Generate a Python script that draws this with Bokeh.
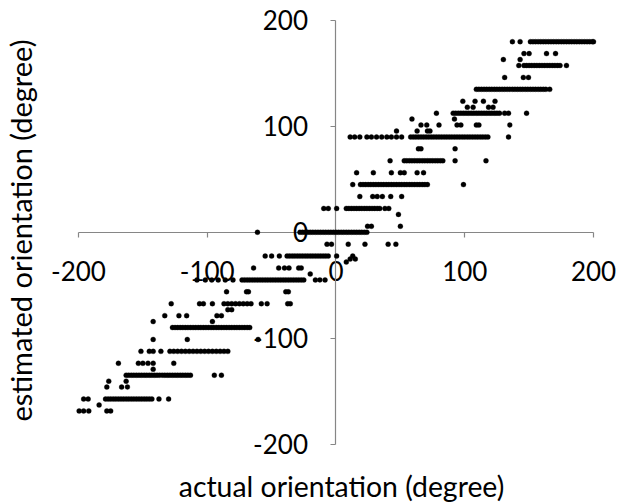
from bokeh.plotting import figure
from bokeh.models import Range1d, LinearAxis, FixedTicker, Label
from bokeh.embed import file_html
from bokeh.resources import INLINE
import math

# Actual orientation (degree) of every sample, grouped by the estimated
# orientation (degree) it was assigned to.
est_180 = [137, 143, 151, 153, 155, 157, 159, 161, 163, 165, 167, 169, 171, 173,
           175, 177, 179, 181, 183, 185, 187, 189, 191, 193, 195, 197, 199, 200]
est_168_75 = [146, 150, 163.5, 170.5]
est_163_125 = [130, 143]
est_157_5 = [142, 146, 148, 150, 152, 154, 156, 158, 160, 162, 164, 166, 168, 170,
             172, 174, 179]
est_146_25 = [131, 145.5, 149.5]
est_135 = [109, 111, 113, 115, 117, 119, 121, 123, 125, 127, 129, 131, 133, 135,
           137, 139, 141, 143, 145, 147, 149, 151, 153, 155, 157, 159, 161, 163, 166]
est_123_75 = [98.5, 108, 114.5, 123.5]
est_118_125 = [102, 106.5, 118.5, 122]
est_112_5 = [78, 91, 93, 95, 97, 99, 101, 103, 105, 107, 109, 111, 113, 115, 117,
             119, 121, 123, 125, 127, 131, 134, 148]
est_106_875 = [59, 92]
est_101_25 = [66, 70.5, 80, 94, 97, 109, 111, 135]
est_95_625 = [47, 63, 71, 73]
est_90 = [11, 14.5, 18.5, 24, 27.5, 31.5, 35.5, 39.5, 43, 47, 51, 58, 60, 62, 64,
          66, 68, 70, 72, 74, 76, 78, 80, 82, 84, 86, 88, 90, 92, 94, 96, 98, 100,
          102, 104, 106, 108, 110, 112, 114, 116, 118, 134]
est_78_75 = [64, 66, 92.5]
est_67_5 = [42, 53, 55, 57, 59, 61, 63, 65, 67, 69, 71, 73, 75, 77, 79, 81, 83,
            92.5, 116.5]
est_56_25 = [16, 29, 43, 50, 53, 63, 68]
est_45 = [13, 19, 21, 23, 25, 27, 29, 31, 33, 35, 37, 39, 41, 43, 45, 47, 49, 51,
          53, 55, 57, 59, 61, 63, 65, 67, 69, 71, 99]
est_33_75 = [18.5, 28.5, 32, 36, 42.5, 51]
est_22_5 = [-9.5, -6, 0.5, 8, 10, 12, 14, 16, 18, 20, 22, 24, 26, 28, 30, 32, 34,
            38, 41]
est_16_875 = [48.5]
est_5_625 = [24.5, 27.5, 50]
est_0 = [-61, -28, -26, -24, -22, -20, -18, -16, -14, -12, -10, -8, -6, -4, -2, 0,
         2, 4, 6, 8, 10, 12, 14, 16, 18, 20, 22, 24]
est_m11_25 = [-7, -3.5, 9.5, 22.5, 40.5, 46.5]
est_m22_5 = [-55, -50, -44, -38, -36, -34, -32, -30, -28, -26, -24, -22, -20, -18,
             -16, -14, -12, -10, -8, -6, 0.5, 13]
est_m25_3 = [11, 15]
est_m28_125 = [8]
est_m33_75 = [-64, -44.5, -40, -36.5, -29, -27]
est_m39_375 = [-20]
est_m45 = [-108, -101.5, -96.5, -91.5, -86, -80, -73, -71, -69, -67, -65, -63, -61,
           -59, -57, -55, -53, -51, -49, -47, -45, -43, -41, -39, -37, -35, -33,
           -31, -29, -27, -25, -16, -12.5, -8.5]
est_m56_25 = [-85, -69.5, -68, -39, -37]
est_m67_5 = [-128, -106, -103, -96, -87, -84, -81, -78, -75, -72, -69, -66, -58,
             -53.5, -37.5, -35.5]
est_m73_125 = [-84, -81]
est_m78_75 = [-133, -122, -116, -92.5, -89]
est_m84_375 = [-142, -96]
est_m90 = [-127, -125, -123, -121, -119, -117, -115, -113, -111, -109, -107, -105,
           -103, -101, -99, -97, -95, -93, -91, -89, -87, -85, -83, -81, -79, -77,
           -75, -73, -71, -69, -67]
est_m101_25 = [-142, -115.5, -60.5]
est_m112_5 = [-151.5, -145, -142, -136, -129, -126, -123, -120, -117, -114, -111,
              -108, -105, -102, -99, -96, -93, -90, -87, -84]
est_m123_75 = [-169, -153.5, -150, -146, -142, -126]
est_m129_375 = [-142]
est_m135 = [-163, -161, -159, -157, -155, -153, -151, -149, -147, -145, -143, -141,
            -139, -137, -135, -133, -131, -129, -127, -125, -123, -121, -119, -117,
            -115, -113, -94.5, -89]
est_m140_625 = [-176.5, -163]
est_m146_25 = [-178, -166.5, -162]
est_m157_5 = [-196, -192.5, -179, -177, -175, -173, -171, -169, -167, -165, -163,
              -161, -159, -157, -155, -153, -151, -149, -147, -145, -143, -137.5, -130]
est_m163_125 = [-184]
est_m168_75 = [-199.5, -196, -192, -178, -175]

groups = [
    (180.0, est_180), (168.75, est_168_75), (163.125, est_163_125),
    (157.5, est_157_5), (146.25, est_146_25), (135.0, est_135),
    (123.75, est_123_75), (118.125, est_118_125), (112.5, est_112_5),
    (106.875, est_106_875), (101.25, est_101_25), (95.625, est_95_625),
    (90.0, est_90), (78.75, est_78_75), (67.5, est_67_5), (56.25, est_56_25),
    (45.0, est_45), (33.75, est_33_75), (22.5, est_22_5), (16.875, est_16_875),
    (5.625, est_5_625), (0.0, est_0), (-11.25, est_m11_25), (-22.5, est_m22_5),
    (-25.3, est_m25_3), (-28.125, est_m28_125), (-33.75, est_m33_75),
    (-39.375, est_m39_375), (-45.0, est_m45), (-56.25, est_m56_25),
    (-67.5, est_m67_5), (-73.125, est_m73_125), (-78.75, est_m78_75),
    (-84.375, est_m84_375), (-90.0, est_m90), (-101.25, est_m101_25),
    (-112.5, est_m112_5), (-123.75, est_m123_75), (-129.375, est_m129_375),
    (-135.0, est_m135), (-140.625, est_m140_625), (-146.25, est_m146_25),
    (-157.5, est_m157_5), (-163.125, est_m163_125), (-168.75, est_m168_75),
]

axis_ticks = [-200, -100, 0, 100, 200]
tick_text = {t: str(t) for t in axis_ticks}

actual = []
estimated = []
for level, xs in groups:
    actual.extend(xs)
    estimated.extend([level] * len(xs))

FONT = "Lato"
AXIS_GREY = "#868686"

p = figure(width=621, height=504,
           x_range=Range1d(-260.58, 221.75), y_range=Range1d(-257.14, 218.89),
           x_axis_location=None, y_axis_location=None,
           toolbar_location=None, output_backend="svg", min_border=0)
p.outline_line_color = None
p.background_fill_color = "white"
p.border_fill_color = "white"
p.xgrid.visible = False
p.ygrid.visible = False

# samples are drawn over the crossing axes
p.scatter(actual, estimated, marker="circle", size=5,
          fill_color="black", line_color="black", line_width=0.3,
          level="overlay")


def style_axis(ax, standoff):
    ax.ticker = FixedTicker(ticks=axis_ticks, minor_ticks=[])
    ax.major_label_overrides = tick_text
    ax.axis_line_color = AXIS_GREY
    ax.axis_line_width = 1.2
    ax.major_tick_line_color = AXIS_GREY
    ax.major_tick_line_width = 1.2
    ax.major_tick_in = 0
    ax.major_tick_out = 5
    ax.minor_tick_line_color = None
    ax.major_label_text_font = FONT
    ax.major_label_text_font_size = "26px"
    ax.major_label_text_color = "black"
    ax.major_label_standoff = standoff


# axes cross at the origin
x_axis = LinearAxis(fixed_location=0, bounds=(-200, 200))
style_axis(x_axis, 24)
p.add_layout(x_axis, "below")

y_axis = LinearAxis(fixed_location=0, bounds=(-200, 200))
style_axis(y_axis, 23)
p.add_layout(y_axis, "left")

p.add_layout(Label(x=4.3, y=-239.5, text="actual orientation (degree)",
                   text_font=FONT, text_font_size="28.4px", text_color="black",
                   text_align="center", text_baseline="middle"))
p.add_layout(Label(x=-245.0, y=1.6, text="estimated orientation (degree)",
                   angle=math.pi / 2,
                   text_font=FONT, text_font_size="29px", text_color="black",
                   text_align="center", text_baseline="middle"))

open("out.html", "w").write(file_html(p, INLINE))
